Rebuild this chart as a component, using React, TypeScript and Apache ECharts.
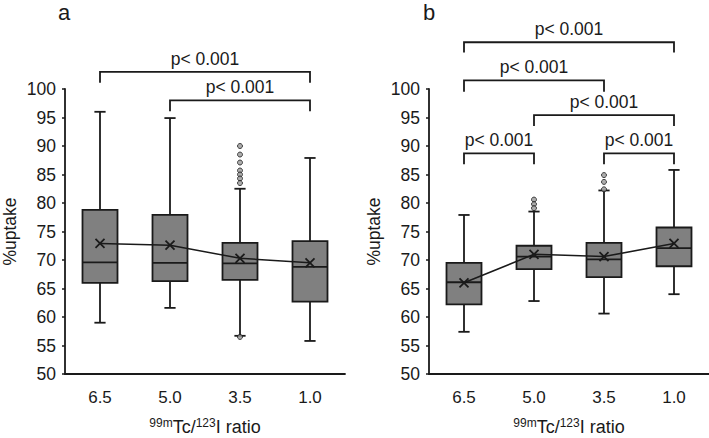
import React, { useEffect, useRef } from "react";
import * as echarts from "echarts";

const categories = ["6.5", "5.0", "3.5", "1.0"];
const yTicks = { min: 50, max: 100, interval: 5 };

// [low whisker, Q1, median, Q3, high whisker]
const boxA = [
  [59.0, 66.0, 69.6, 78.8, 96.0],
  [61.6, 66.3, 69.5, 77.9, 94.9],
  [56.7, 66.5, 69.4, 73.0, 82.5],
  [55.8, 62.7, 68.8, 73.3, 87.9],
];
const meanA = [72.9, 72.6, 70.3, 69.5];
const outliersA = [
  [2, 90.0], [2, 88.5], [2, 87.1], [2, 85.7], [2, 85.0], [2, 84.3], [2, 83.5], [2, 56.5],
];

const boxB = [
  [57.4, 62.2, 66.1, 69.5, 77.9],
  [62.8, 68.4, 70.6, 72.5, 78.5],
  [60.6, 67.0, 70.1, 73.0, 82.2],
  [64.0, 68.9, 72.1, 75.7, 85.8],
];
const meanB = [66.0, 71.0, 70.6, 72.9];
const outliersB = [
  [1, 80.6], [1, 79.8], [1, 79.1], [2, 84.9], [2, 83.7], [2, 82.4],
];

// [from category, to category, bracket level, tick end]
const bracketsA = [
  [0, 3, 103.0, 101.1],
  [1, 3, 98.0, 96.1],
];
const bracketsB = [
  [0, 3, 108.2, 106.4],
  [0, 2, 101.5, 99.5],
  [1, 3, 95.4, 93.5],
  [0, 1, 88.7, 86.8],
  [2, 3, 88.7, 86.8],
];
const pLabel = "p< 0.001";
const panelLabels = ["a", "b"];

const FONT = "'Liberation Sans', Arial, sans-serif";
const INK = "#1a1a1a";

function boxRender(params: any, api: any) {
  const x = api.value(0);
  const pLow = api.coord([x, api.value(1)]);
  const pQ1 = api.coord([x, api.value(2)]);
  const pMed = api.coord([x, api.value(3)]);
  const pQ3 = api.coord([x, api.value(4)]);
  const pHigh = api.coord([x, api.value(5)]);
  const band = api.size([1, 0])[0];
  const half = band * 0.25;
  const cap = band * 0.08;
  const cx = pMed[0];
  const ls = { stroke: INK, lineWidth: 1.8 };
  return {
    type: "group",
    children: [
      { type: "line", shape: { x1: cx, y1: pQ3[1], x2: cx, y2: pHigh[1] }, style: ls },
      { type: "line", shape: { x1: cx, y1: pQ1[1], x2: cx, y2: pLow[1] }, style: ls },
      { type: "line", shape: { x1: cx - cap, y1: pHigh[1], x2: cx + cap, y2: pHigh[1] }, style: ls },
      { type: "line", shape: { x1: cx - cap, y1: pLow[1], x2: cx + cap, y2: pLow[1] }, style: ls },
      {
        type: "rect",
        shape: { x: cx - half, y: pQ3[1], width: half * 2, height: pQ1[1] - pQ3[1] },
        style: { fill: "#808080", stroke: INK, lineWidth: 1.8 },
      },
      { type: "line", shape: { x1: cx - half, y1: pMed[1], x2: cx + half, y2: pMed[1] }, style: ls },
    ],
  };
}

function bracketRender(params: any, api: any) {
  const a = api.value(0);
  const b = api.value(1);
  const p1 = api.coord([a, api.value(2)]);
  const p2 = api.coord([b, api.value(2)]);
  const d = api.coord([a, api.value(3)]);
  return {
    type: "group",
    children: [
      {
        type: "polyline",
        shape: { points: [[p1[0], d[1]], [p1[0], p1[1]], [p2[0], p2[1]], [p2[0], d[1]]] },
        style: { stroke: INK, lineWidth: 1.8, fill: "none" },
      },
      {
        type: "text",
        style: {
          text: pLabel,
          x: (p1[0] + p2[0]) / 2,
          y: p1[1] - 13,
          align: "center",
          verticalAlign: "middle",
          fontSize: 17.5,
          fontFamily: FONT,
          fill: INK,
        },
      },
    ],
  };
}

const xName = "{sup|99m}{n|Tc/}{sup|123}{n|I ratio}";

export default function App() {
  const ref = useRef<HTMLDivElement>(null);
  useEffect(() => {
    if (!ref.current) return;
    const chart = echarts.init(ref.current, undefined, { renderer: "svg" });
    const grids = [
      { left: 65, top: 89, width: 280, height: 285, containLabel: false, outerBoundsMode: "none" },
      { left: 429, top: 89, width: 280, height: 285, containLabel: false, outerBoundsMode: "none" },
    ];
    const xAxes = grids.map((_, i) => ({
      type: "category",
      gridIndex: i,
      data: categories,
      axisTick: { show: false },
      axisLine: { lineStyle: { color: INK, width: 1.8 } },
      axisLabel: { fontSize: 17, color: INK, fontFamily: FONT, margin: 15 },
      name: xName,
      nameLocation: "middle",
      nameGap: 43,
      nameTextStyle: {
        rich: {
          sup: { fontSize: 12, fontFamily: FONT, color: INK, verticalAlign: "top", lineHeight: 20 },
          n: { fontSize: 18, fontFamily: FONT, color: INK, lineHeight: 20 },
        },
      },
    }));
    const yAxes = grids.map((_, i) => ({
      type: "value",
      gridIndex: i,
      min: yTicks.min,
      max: yTicks.max,
      interval: yTicks.interval,
      splitLine: { show: false },
      axisLine: { show: true, lineStyle: { color: INK, width: 1.8 } },
      axisTick: { show: true, length: 3, lineStyle: { color: INK, width: 1.5 } },
      axisLabel: { fontSize: 17.5, color: INK, fontFamily: FONT, margin: 9 },
      name: "%uptake",
      nameLocation: "middle",
      nameRotate: 90,
      nameGap: 46,
      nameTextStyle: { fontSize: 17.5, color: INK, fontFamily: FONT },
    }));
    const panels = [
      { box: boxA, mean: meanA, out: outliersA, br: bracketsA },
      { box: boxB, mean: meanB, out: outliersB, br: bracketsB },
    ];
    const series: any[] = [];
    panels.forEach((p, i) => {
      series.push({
        type: "custom",
        xAxisIndex: i,
        yAxisIndex: i,
        renderItem: boxRender,
        encode: { x: 0, y: [1, 2, 3, 4, 5] },
        data: p.box.map((b, k) => [k, ...b]),
        z: 2,
      });
      series.push({
        type: "scatter",
        xAxisIndex: i,
        yAxisIndex: i,
        data: p.out,
        symbol: "circle",
        symbolSize: 5,
        itemStyle: { color: "#999", borderColor: INK, borderWidth: 1 },
        z: 3,
      });
      series.push({
        type: "line",
        xAxisIndex: i,
        yAxisIndex: i,
        data: p.mean,
        symbol: "path://M0,0L10,10M10,0L0,10",
        symbolSize: 9,
        lineStyle: { color: INK, width: 1.5 },
        itemStyle: { color: INK, borderColor: INK, borderWidth: 1.8 },
        z: 4,
      });
      series.push({
        type: "custom",
        xAxisIndex: i,
        yAxisIndex: i,
        renderItem: bracketRender,
        encode: { x: [0, 1], y: [2, 3] },
        data: p.br,
        clip: false,
        z: 5,
      });
    });
    chart.setOption({
      animation: false,
      backgroundColor: "#fff",
      grid: grids,
      xAxis: xAxes,
      yAxis: yAxes,
      series,
      graphic: panelLabels.map((t, i) => ({
        type: "text",
        x: i === 0 ? 64 : 429,
        y: 12,
        style: {
          text: t,
          fontSize: 22,
          fontFamily: FONT,
          fill: INK,
          align: "center",
          verticalAlign: "middle",
        },
      })),
    });
    return () => chart.dispose();
  }, []);
  return (
    <div
      ref={ref}
      style={{ position: "fixed", left: 0, top: 0, width: 709, height: 438, background: "#fff" }}
    />
  );
}
